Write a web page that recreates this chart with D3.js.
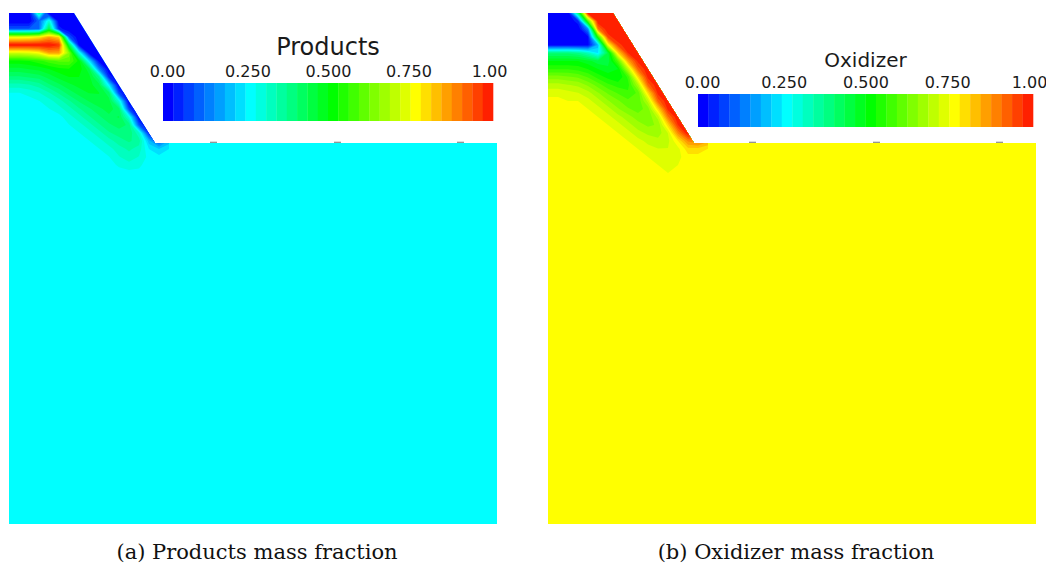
<!DOCTYPE html>
<html>
<head>
<meta charset="utf-8">
<script src="https://cdn.jsdelivr.net/npm/d3@7"></script>
<style>
  body { margin: 0; background: #fff; }
  svg { display: block; }
</style>
</head>
<body>
<div id="chart"></div>
<script>
// spacing of the sampled grid (domain units = pixels of the original render)
var uStep = 10
var vStep = 8
var nBands = 32
var tickValues = [0, 0.25, 0.5, 0.75, 1]
var tickLabels = ['0.00', '0.250', '0.500', '0.750', '1.00']

// value of the field away from the inlet (far field)
var productsBulk = 0.26
var oxidizerBulk = 0.76

// sampled values, rows v = 0,8,...,168 ; columns u = 0,10,...,160
var productsRows = [
  [0, 0, 0, 0.35, 0, 0, 0, 0, 0, 0, 0, 0, 0, 0, 0, 0, 0],
  [0, 0, 0, 0.12, 0.3, 0, 0, 0, 0, 0, 0, 0, 0, 0, 0, 0, 0],
  [0.1, 0.1, 0.1, 0.12, 0.45, 0.05, 0, 0, 0, 0, 0, 0, 0, 0, 0, 0, 0],
  [0.74, 0.74, 0.75, 0.78, 0.85, 0.8, 0.1, 0, 0, 0, 0, 0, 0, 0, 0, 0, 0],
  [1, 1, 1, 1, 1, 0.97, 0.45, 0.02, 0, 0, 0, 0, 0, 0, 0, 0, 0],
  [0.72, 0.72, 0.73, 0.76, 0.85, 0.85, 0.65, 0.3, 0.02, 0, 0, 0, 0, 0, 0, 0, 0],
  [0.52, 0.52, 0.53, 0.55, 0.58, 0.6, 0.6, 0.52, 0.25, 0.02, 0, 0, 0, 0, 0, 0, 0],
  [0.46, 0.46, 0.47, 0.48, 0.5, 0.52, 0.53, 0.52, 0.45, 0.15, 0, 0, 0, 0, 0, 0, 0],
  [0.4, 0.4, 0.41, 0.42, 0.45, 0.48, 0.5, 0.5, 0.48, 0.38, 0.05, 0, 0, 0, 0, 0, 0],
  [0.33, 0.33, 0.34, 0.36, 0.4, 0.43, 0.46, 0.48, 0.48, 0.45, 0.25, 0, 0, 0, 0, 0, 0],
  [0.28, 0.28, 0.29, 0.31, 0.34, 0.38, 0.42, 0.45, 0.47, 0.47, 0.42, 0.08, 0, 0, 0, 0, 0],
  [0.27, 0.27, 0.27, 0.28, 0.3, 0.33, 0.37, 0.41, 0.44, 0.46, 0.45, 0.3, 0, 0, 0, 0, 0],
  [0.26, 0.26, 0.26, 0.26, 0.28, 0.3, 0.33, 0.37, 0.4, 0.43, 0.45, 0.42, 0.08, 0, 0, 0, 0],
  [0.26, 0.26, 0.26, 0.26, 0.26, 0.27, 0.3, 0.33, 0.37, 0.4, 0.43, 0.44, 0.3, 0, 0, 0, 0],
  [0.26, 0.26, 0.26, 0.26, 0.26, 0.26, 0.28, 0.3, 0.33, 0.37, 0.4, 0.42, 0.4, 0.1, 0, 0, 0],
  [0.26, 0.26, 0.26, 0.26, 0.26, 0.26, 0.26, 0.28, 0.3, 0.33, 0.37, 0.39, 0.4, 0.32, 0.05, 0, 0],
  [0.26, 0.26, 0.26, 0.26, 0.26, 0.26, 0.26, 0.26, 0.28, 0.3, 0.33, 0.36, 0.38, 0.36, 0.2, 0.1, 0.2],
  [0.26, 0.26, 0.26, 0.26, 0.26, 0.26, 0.26, 0.26, 0.26, 0.28, 0.3, 0.33, 0.35, 0.33, 0.25, 0.22, 0.25],
  [0.26, 0.26, 0.26, 0.26, 0.26, 0.26, 0.26, 0.26, 0.26, 0.26, 0.28, 0.31, 0.33, 0.31, 0.27, 0.26, 0.26],
  [0.26, 0.26, 0.26, 0.26, 0.26, 0.26, 0.26, 0.26, 0.26, 0.26, 0.26, 0.29, 0.3, 0.29, 0.26, 0.26, 0.26],
  [0.26, 0.26, 0.26, 0.26, 0.26, 0.26, 0.26, 0.26, 0.26, 0.26, 0.26, 0.26, 0.27, 0.27, 0.26, 0.26, 0.26],
  [0.26, 0.26, 0.26, 0.26, 0.26, 0.26, 0.26, 0.26, 0.26, 0.26, 0.26, 0.26, 0.26, 0.26, 0.26, 0.26, 0.26],
]

var oxidizerRows = [
  [0, 0, 0, 0.4, 1, 1, 1, 1, 1, 1, 1, 1, 1, 1, 1, 1, 1],
  [0, 0, 0, 0.05, 0.6, 1, 1, 1, 1, 1, 1, 1, 1, 1, 1, 1, 1],
  [0, 0, 0, 0, 0.15, 0.9, 1, 1, 1, 1, 1, 1, 1, 1, 1, 1, 1],
  [0, 0, 0, 0, 0.02, 0.55, 0.95, 1, 1, 1, 1, 1, 1, 1, 1, 1, 1],
  [0.02, 0.02, 0.02, 0.02, 0.02, 0.2, 0.75, 0.95, 1, 1, 1, 1, 1, 1, 1, 1, 1],
  [0.4, 0.4, 0.4, 0.38, 0.33, 0.25, 0.45, 0.8, 0.97, 1, 1, 1, 1, 1, 1, 1, 1],
  [0.5, 0.5, 0.5, 0.5, 0.48, 0.45, 0.45, 0.6, 0.85, 0.98, 1, 1, 1, 1, 1, 1, 1],
  [0.56, 0.56, 0.56, 0.55, 0.53, 0.5, 0.48, 0.5, 0.7, 0.92, 1, 1, 1, 1, 1, 1, 1],
  [0.64, 0.64, 0.63, 0.62, 0.59, 0.55, 0.52, 0.5, 0.57, 0.8, 0.98, 1, 1, 1, 1, 1, 1],
  [0.7, 0.7, 0.69, 0.68, 0.65, 0.61, 0.57, 0.55, 0.55, 0.68, 0.92, 1, 1, 1, 1, 1, 1],
  [0.74, 0.74, 0.73, 0.72, 0.7, 0.66, 0.62, 0.59, 0.57, 0.6, 0.8, 0.98, 1, 1, 1, 1, 1],
  [0.76, 0.76, 0.75, 0.75, 0.73, 0.7, 0.66, 0.63, 0.6, 0.6, 0.7, 0.92, 1, 1, 1, 1, 1],
  [0.76, 0.76, 0.76, 0.76, 0.75, 0.73, 0.7, 0.66, 0.63, 0.61, 0.64, 0.8, 0.98, 1, 1, 1, 1],
  [0.76, 0.76, 0.76, 0.76, 0.76, 0.75, 0.73, 0.7, 0.67, 0.64, 0.63, 0.7, 0.9, 1, 1, 1, 1],
  [0.76, 0.76, 0.76, 0.76, 0.76, 0.76, 0.75, 0.73, 0.7, 0.67, 0.65, 0.66, 0.8, 0.97, 1, 1, 1],
  [0.76, 0.76, 0.76, 0.76, 0.76, 0.76, 0.76, 0.75, 0.73, 0.7, 0.68, 0.67, 0.72, 0.88, 1, 1, 1],
  [0.76, 0.76, 0.76, 0.76, 0.76, 0.76, 0.76, 0.76, 0.75, 0.73, 0.71, 0.7, 0.71, 0.78, 0.88, 0.9, 0.85],
  [0.76, 0.76, 0.76, 0.76, 0.76, 0.76, 0.76, 0.76, 0.76, 0.75, 0.73, 0.72, 0.72, 0.74, 0.8, 0.8, 0.78],
  [0.76, 0.76, 0.76, 0.76, 0.76, 0.76, 0.76, 0.76, 0.76, 0.76, 0.75, 0.74, 0.73, 0.74, 0.77, 0.77, 0.76],
  [0.76, 0.76, 0.76, 0.76, 0.76, 0.76, 0.76, 0.76, 0.76, 0.76, 0.76, 0.75, 0.74, 0.75, 0.76, 0.76, 0.76],
  [0.76, 0.76, 0.76, 0.76, 0.76, 0.76, 0.76, 0.76, 0.76, 0.76, 0.76, 0.76, 0.75, 0.75, 0.76, 0.76, 0.76],
  [0.76, 0.76, 0.76, 0.76, 0.76, 0.76, 0.76, 0.76, 0.76, 0.76, 0.76, 0.76, 0.76, 0.76, 0.76, 0.76, 0.76],
]

// outline of the computational domain (inlet wall, step, outer box)
var outlineU = [0, 65, 146, 488, 488, 0]
var outlineV = [0, 0, 130, 130, 511, 511]
var domainW = 488
var domainH = 511
var stepMarksU = [204, 328, 451]

var width = 1046
var height = 566

var svg = d3
  .select('#chart')
  .append('svg')
  .attr('width', width)
  .attr('height', height)

var rainbow = d3
  .scaleLinear()
  .domain([0, 0.25, 0.5, 0.75, 1])
  .range(['#0000ff', '#00ffff', '#00ff00', '#ffff00', '#ff0000'])

var thresholds = d3.range(nBands).map((i) => i / nBands)

function bandColor(v) {
  var i = Math.min(nBands - 1, Math.floor(v * nBands))
  return rainbow(i / nBands)
}

var panels = [
  {
    id: 'a',
    rows: productsRows,
    bulk: productsBulk,
    left: 9,
    title: 'Products',
    titleSize: 24,
    titleY: 55,
    tickY: 77,
    bar: [163, 493, 83, 121],
    caption: '(a) Products mass fraction',
    captionX: 257,
  },
  {
    id: 'b',
    rows: oxidizerRows,
    bulk: oxidizerBulk,
    left: 548,
    title: 'Oxidizer',
    titleSize: 20,
    titleY: 67,
    tickY: 88,
    bar: [698, 1033, 94, 127],
    caption: '(b) Oxidizer mass fraction',
    captionX: 796,
  },
]

panels.forEach(drawPanel)

function drawPanel(p) {
  var x = d3.scaleLinear().domain([0, domainW]).range([p.left, p.left + domainW])
  var y = d3.scaleLinear().domain([0, domainH]).range([13, 13 + domainH])

  var nCols = p.rows[0].length
  var nRows = p.rows.length
  var values = [].concat(...p.rows)

  // grid index -> domain coordinate (d3.contours puts sample i at i + 0.5)
  var gx = d3.scaleLinear().domain([0.5, nCols - 0.5]).range([0, (nCols - 1) * uStep])
  var gy = d3.scaleLinear().domain([0.5, nRows - 0.5]).range([0, (nRows - 1) * vStep])

  var proj = d3.geoTransform({
    point: function (px, py) {
      this.stream.point(x(gx(px)), y(gy(py)))
    },
  })
  var path = d3.geoPath(proj)

  var contours = d3.contours().size([nCols, nRows]).thresholds(thresholds)(values)

  var outline = d3
    .line()
    .x((d) => x(d[0]))
    .y((d) => y(d[1]))
  var pts = outlineU.map((u, i) => [u, outlineV[i]])

  svg
    .append('clipPath')
    .attr('id', 'clip-' + p.id)
    .append('path')
    .attr('d', outline(pts) + 'Z')

  // keep the bands inside the last sample row / column (avoids the ragged grid border)
  svg
    .append('clipPath')
    .attr('id', 'grid-' + p.id)
    .append('rect')
    .attr('x', x(-10))
    .attr('y', y(-10))
    .attr('width', x((nCols - 1) * uStep) - x(-10))
    .attr('height', y((nRows - 1) * vStep) - y(-10))

  var g = svg.append('g').attr('clip-path', 'url(#clip-' + p.id + ')')

  //far field colour
  g.append('rect')
    .attr('x', x(0))
    .attr('y', y(0))
    .attr('width', x(domainW) - x(0))
    .attr('height', y(domainH) - y(0))
    .attr('fill', bandColor(p.bulk))

  // bands are nested (value >= threshold), so painting them in order gives the filled map
  g.append('g')
    .attr('clip-path', 'url(#grid-' + p.id + ')')
    .selectAll('path')
    .data(contours)
    .enter()
    .append('path')
    .attr('d', path)
    .attr('fill', (d) => bandColor(d.value))

  // little marks sitting on the step
  svg
    .append('g')
    .selectAll('line')
    .data(stepMarksU)
    .enter()
    .append('line')
    .attr('x1', (d) => x(d - 3))
    .attr('x2', (d) => x(d + 4))
    .attr('y1', y(129.3))
    .attr('y2', y(129.3))
    .attr('stroke', '#8a8a8a')
    .attr('stroke-width', 1.2)

  // colour bar
  var cb = d3.scaleLinear().domain([0, 1]).range([p.bar[0], p.bar[1]])
  svg
    .append('g')
    .selectAll('rect')
    .data(thresholds)
    .enter()
    .append('rect')
    .attr('x', (d) => cb(d))
    .attr('y', p.bar[2])
    .attr('width', cb(1 / nBands) - cb(0) + 0.3)
    .attr('height', p.bar[3] - p.bar[2])
    .attr('fill', (d) => bandColor(d))

  var labelScale = d3.scaleLinear().domain([0, 1]).range([p.bar[0] + 4, p.bar[1] - 4])
  var axis = d3
    .axisTop(labelScale)
    .tickValues(tickValues)
    .tickFormat((d, i) => tickLabels[i])
    .tickSize(0)
    .tickPadding(0)

  var ax = svg
    .append('g')
    .attr('transform', 'translate(0,' + p.tickY + ')')
    .call(axis)
  ax.select('.domain').remove()
  ax.attr('font-family', 'DejaVu Sans').attr('font-size', 16)
  ax.selectAll('text').attr('fill', '#1a1a1a')

  svg
    .append('text')
    .attr('x', (p.bar[0] + p.bar[1]) / 2)
    .attr('y', p.titleY)
    .attr('text-anchor', 'middle')
    .attr('font-family', 'DejaVu Sans')
    .attr('font-size', p.titleSize)
    .attr('fill', '#1a1a1a')
    .text(p.title)

  svg
    .append('text')
    .attr('x', p.captionX)
    .attr('y', 559)
    .attr('text-anchor', 'middle')
    .attr('font-family', 'DejaVu Serif')
    .attr('font-size', 21)
    .attr('fill', '#111')
    .text(p.caption)
}
</script>
</body>
</html>
